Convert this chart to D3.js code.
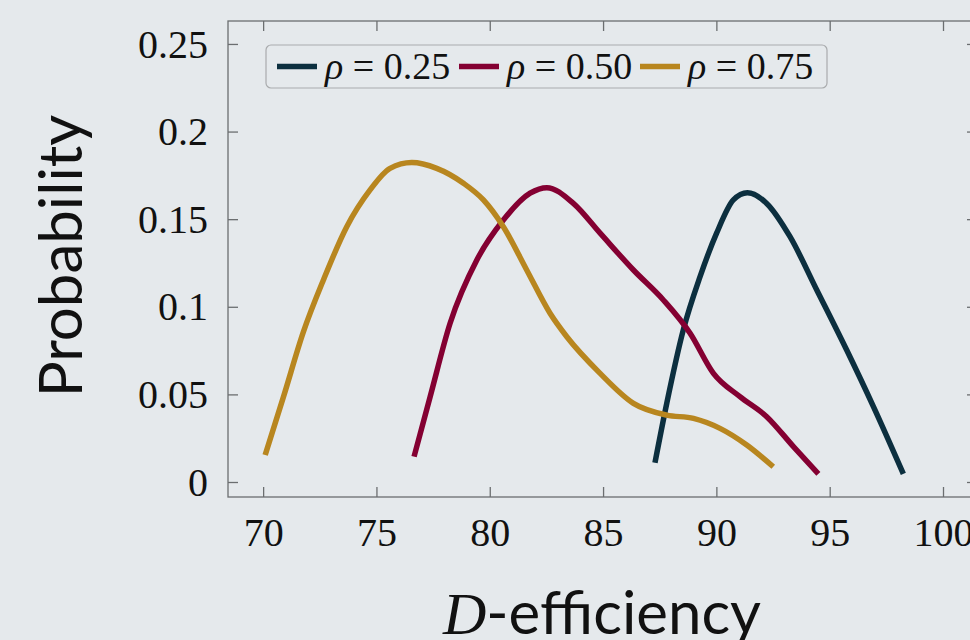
<!DOCTYPE html>
<html lang="en">
  <head>
    <meta charset="UTF-8" />
    <title>D-efficiency distribution</title>
    <script src="https://cdn.jsdelivr.net/npm/d3@7"></script>
    <style>
      html, body { margin: 0; padding: 0; background: #e5e9ec; overflow: hidden; }
      svg { display: block; }
    </style>
  </head>
  <body>
    <div id="chart"></div>
    <script>
      // values
      const seriesNames = ["0.25", "0.50", "0.75"];
      const seriesColors = ["#0c2f3f", "#840032", "#b8861f"];

      const rho25 = [
        [87.29, 0.011], [87.81, 0.0449], [88.54, 0.0868], [89.28, 0.1172],
        [90.01, 0.142], [90.75, 0.161], [91.37, 0.1651], [92.22, 0.159],
        [93.25, 0.14], [94.43, 0.1096], [95.75, 0.0753], [96.93, 0.043],
        [98.25, 0.0046]
      ];
      const rho50 = [
        [76.66, 0.0145], [77.37, 0.0487], [78.25, 0.0906], [79.43, 0.1267],
        [80.6, 0.1495], [81.78, 0.1648], [82.52, 0.1680], [83.69, 0.159],
        [84.87, 0.142], [86.34, 0.121], [87.66, 0.1039], [88.84, 0.0849],
        [89.87, 0.062], [91.04, 0.0487], [92.22, 0.0373], [93.4, 0.0202],
        [94.5, 0.0046]
      ];
      const rho75 = [
        [70.09, 0.0154], [70.9, 0.0487], [71.78, 0.0858], [72.66, 0.1153],
        [73.69, 0.1457], [74.72, 0.1667], [75.6, 0.179], [76.56, 0.1823],
        [77.66, 0.179], [78.84, 0.1705], [79.72, 0.161], [80.6, 0.1457],
        [81.63, 0.121], [82.66, 0.0963], [83.4, 0.0829], [84.87, 0.062],
        [86.34, 0.0449], [87.81, 0.0382], [88.99, 0.0363], [90.16, 0.0306],
        [91.34, 0.0211], [92.51, 0.0087]
      ];
      const series = [rho25, rho50, rho75];

      const xTicks = [70, 75, 80, 85, 90, 95, 100];
      const yTicks = [0, 0.05, 0.1, 0.15, 0.2, 0.25];

      const W = 970, H = 640;
      const plotL = 228, plotT = 21, plotR = 977, plotB = 497;

      const svg = d3.select("#chart").append("svg")
        .attr("width", W).attr("height", H);

      const x = d3.scaleLinear().domain([68.45, 101.5]).range([plotL, plotR]);
      const y = d3.scaleLinear().domain([-0.00856, 0.2631]).range([plotB, plotT]);

      const axisColor = "#6b6e70";
      const tickFont = "'Liberation Serif', 'Times New Roman', serif";

      // frame
      svg.append("rect")
        .attr("x", plotL).attr("y", plotT)
        .attr("width", plotR - plotL).attr("height", plotB - plotT)
        .attr("fill", "none").attr("stroke", axisColor).attr("stroke-width", 1.3);

      // axes with inward ticks
      const xAxis = svg.append("g")
        .attr("transform", "translate(0," + plotB + ")")
        .call(d3.axisBottom(x).tickValues(xTicks).tickSizeInner(-10).tickSizeOuter(0).tickPadding(22)
          .tickFormat(d3.format("d")));
      const xTop = svg.append("g")
        .attr("transform", "translate(0," + plotT + ")")
        .call(d3.axisTop(x).tickValues(xTicks).tickSizeInner(-10).tickSizeOuter(0).tickFormat(""));
      const yAxis = svg.append("g")
        .attr("transform", "translate(" + plotL + ",0)")
        .call(d3.axisLeft(y).tickValues(yTicks).tickSizeInner(-10).tickSizeOuter(0).tickPadding(20)
          .tickFormat((d) => (d === 0 ? "0" : String(+d.toFixed(2)))));
      const yRight = svg.append("g")
        .attr("transform", "translate(" + plotR + ",0)")
        .call(d3.axisRight(y).tickValues(yTicks).tickSizeInner(-10).tickSizeOuter(0).tickFormat(""));

      [xAxis, xTop, yAxis, yRight].forEach((g) => {
        g.select(".domain").remove();
        g.selectAll(".tick line").attr("stroke", axisColor).attr("stroke-width", 1.3);
        g.selectAll(".tick text")
          .attr("fill", "#111")
          .style("font-family", tickFont)
          .style("font-size", "40px");
      });
      xAxis.selectAll(".tick text").attr("dy", "0.71em").attr("y", 21);
      yAxis.selectAll(".tick text").attr("dy", "0.33em");

      // curves
      const line = d3.line()
        .x((d) => x(d[0]))
        .y((d) => y(d[1]))
        .curve(d3.curveMonotoneX);

      svg.selectAll(".curve")
        .data(series)
        .enter()
        .append("path")
        .attr("class", "curve")
        .attr("d", line)
        .attr("fill", "none")
        .attr("stroke", (d, i) => seriesColors[i])
        .attr("stroke-width", 5.5);

      // legend
      const legend = svg.append("g");
      legend.append("rect")
        .attr("x", 266).attr("y", 45).attr("width", 561).attr("height", 43)
        .attr("rx", 5).attr("ry", 5)
        .attr("fill", "#e5e9ec").attr("stroke", "#a9abad").attr("stroke-width", 1.2);

      const entryX = [277, 459, 640];
      seriesNames.forEach((name, i) => {
        legend.append("line")
          .attr("x1", entryX[i]).attr("x2", entryX[i] + 40)
          .attr("y1", 66.5).attr("y2", 66.5)
          .attr("stroke", seriesColors[i]).attr("stroke-width", 5.5);
        const t = legend.append("text")
          .attr("x", entryX[i] + 48).attr("y", 79)
          .attr("fill", "#111")
          .style("font-family", tickFont)
          .style("font-size", "38px");
        t.append("tspan").style("font-style", "italic").text("ρ");
        t.append("tspan").text(" = " + name);
      });

      // axis titles
      svg.append("text")
        .attr("transform", "translate(82,256) rotate(-90)")
        .attr("text-anchor", "middle")
        .attr("fill", "#111")
        .style("font-family", "Lato, 'Noto Sans', sans-serif")
        .style("font-size", "60px")
        .text("Probability");

      const xt = svg.append("text")
        .attr("x", 602).attr("y", 634)
        .attr("text-anchor", "middle")
        .attr("fill", "#111")
        .style("font-family", "Lato, 'Noto Sans', sans-serif")
        .style("font-size", "60px");
      xt.append("tspan")
        .style("font-family", tickFont)
        .style("font-style", "italic")
        .text("D");
      xt.append("tspan").text("-efficiency");
    </script>
  </body>
</html>
